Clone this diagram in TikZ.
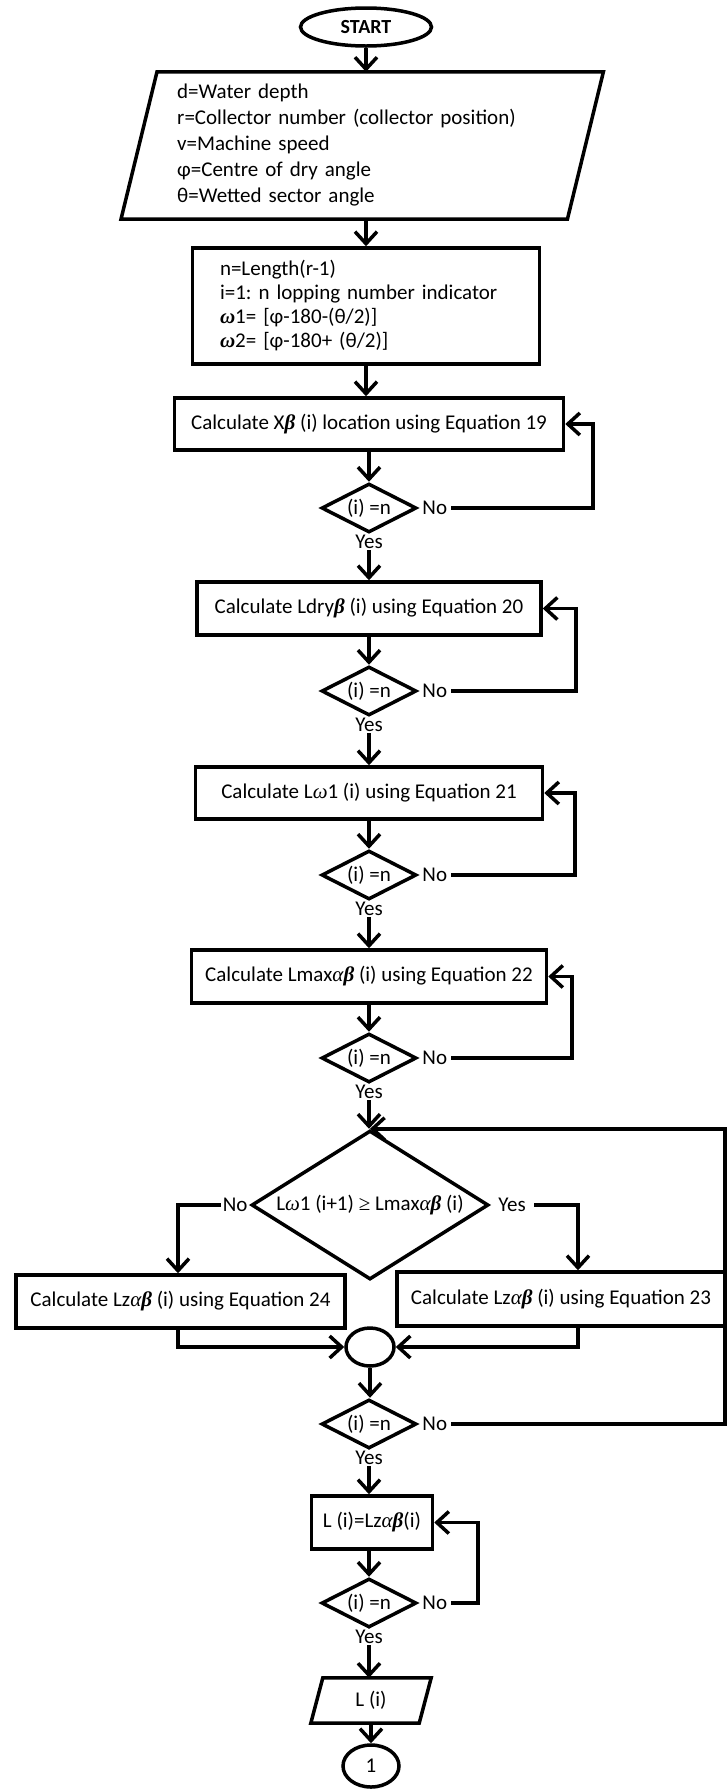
\documentclass[tikz,border=0pt]{standalone}
\usepackage{fontspec}
\setmainfont{Carlito}
\newfontfamily\symfont{Liberation Serif}
\usetikzlibrary{shapes.geometric,arrows.meta,calc}
\frenchspacing
% Greek symbols set in a serif, as in an equation editor
\newcommand{\betab}{{\symfont\bfseries\itshape β}}
\newcommand{\alphai}{{\symfont\itshape α}}
\newcommand{\omegai}{{\symfont\itshape ω}}
\newcommand{\omegab}{{\symfont\bfseries\itshape ω}}
\newcommand{\gesign}{{\symfont ≥}}
\tikzset{
  txt/.style={font=\fontsize{21}{25}\selectfont},
  proc/.style={txt, draw, line width=3.5pt, rectangle, inner sep=0pt},
  cond/.style={txt, draw, line width=3.5pt, diamond, inner sep=0pt, aspect=1.9,
    minimum width=95pt, minimum height=49pt},
  lbl/.style={txt, inner sep=4pt},
  flow/.style={line width=3.5pt, -{Straight Barb[length=12pt,width=22pt]}},
  edge/.style={line width=3.5pt},
}
\begin{document}
\begin{tikzpicture}[x=1pt,y=-1pt]
\useasboundingbox (0,0) rectangle (728,1789);

% terminal and inputs
\node[txt, draw, line width=3.5pt, ellipse, inner sep=0pt, minimum width=131pt,
  minimum height=38pt, font=\fontsize{20}{24}\selectfont\bfseries] (start) at (366,27) {START};
\node[txt, font=\fontsize{21}{26}\selectfont, inner sep=0pt, text width=370pt,
  minimum height=147pt, align=left, anchor=west] (inp) at (177,145.5)
  {d=Water depth\\
   r=Collector number (collector position)\\
   v=Machine speed\\
   φ=Centre of dry angle\\
   θ=Wetted sector angle};
\draw[edge] ([xshift=-20pt]inp.north west) -- ([xshift=56pt]inp.north east)
  -- ([xshift=20pt]inp.south east) -- ([xshift=-56pt]inp.south west) -- cycle;

\node[proc, font=\fontsize{21}{24}\selectfont, minimum width=347pt, minimum height=116pt,
  text width=292pt, align=left] (init) at (366,306)
  {n=Length(r-1)\\
   i=1: n lopping number indicator\\
   \omegab1= [φ-180-(θ/2)]\\
   \omegab2= [φ-180+ (θ/2)]};

% first four loops
\node[proc, minimum width=389pt, minimum height=52pt] (b1) at (369,424)
  {Calculate X\betab\ (i) location using Equation 19};
\node[cond] (d1) at (369,508) {(i) =n};
\node[proc, minimum width=344pt, minimum height=53pt] (b2) at (369,608.5)
  {Calculate Ldry\betab\ (i) using Equation 20};
\node[cond] (d2) at (369,691) {(i) =n};
\node[proc, minimum width=347pt, minimum height=52pt] (b3) at (369,793)
  {Calculate L\omegai1 (i) using Equation 21};
\node[cond] (d3) at (369,875) {(i) =n};
\node[proc, minimum width=355pt, minimum height=53pt] (b4) at (369,976.5)
  {Calculate Lmax\alphai\betab\ (i) using Equation 22};
\node[cond] (d4) at (369,1058) {(i) =n};

% branch
\node[txt, draw, line width=3.5pt, diamond, inner sep=0pt, aspect=1.59,
  minimum width=237pt, minimum height=149pt] (big) at (370,1205)
  {L\omegai1 (i+1) \gesign\ Lmax\alphai\betab\ (i)};
\node[proc, minimum width=329pt, minimum height=53pt] (lb) at (180.5,1301.5)
  {Calculate Lz\alphai\betab\ (i) using Equation 24};
\node[proc, minimum width=328pt, minimum height=54pt] (rb) at (561,1299)
  {Calculate Lz\alphai\betab\ (i) using Equation 23};
\node[draw, line width=3.5pt, ellipse, inner sep=0pt, minimum width=48pt,
  minimum height=38pt] (jn) at (370,1347) {};
\node[cond] (d5) at (369,1424) {(i) =n};

% output stage
\node[proc, minimum width=121pt, minimum height=53pt] (b5) at (372,1522.5)
  {L (i)=Lz\alphai\betab(i)};
\node[cond] (d6) at (369,1603) {(i) =n};
\node[txt, inner sep=0pt, minimum width=120pt, minimum height=45pt] (out) at (371,1700.5) {L (i)};
\draw[edge] ([xshift=12pt]out.north west) -- (out.north east)
  -- ([xshift=-12pt]out.south east) -- (out.south west) -- cycle;
\node[txt, draw, line width=3.5pt, ellipse, inner sep=0pt, minimum width=56pt,
  minimum height=42pt] (fin) at (371,1766) {1};

% branch labels
\foreach \d in {1,...,6}{
  \node[lbl, anchor=west] (n\d) at (d\d.east) {No};
  \node[lbl, anchor=north, inner sep=1pt] (y\d) at (d\d.south) {Yes};
}
\node[lbl, anchor=east, inner sep=2pt] (bigno) at (big.west) {No};
\node[lbl, anchor=west, inner sep=8pt] (bigyes) at (big.east) {Yes};

% loop-back columns
\coordinate (r1) at (593,0);
\coordinate (r2) at (576,0);
\coordinate (r3) at (575,0);
\coordinate (r4) at (572,0);
\coordinate (r5) at (725,0);
\coordinate (r6) at (478,0);
\coordinate (lx) at (178,0);
\coordinate (rx) at (578,0);
\coordinate (mainx) at (366,0);

% main flow
\draw[flow] (start.south) -- (start.south |- inp.north);
\draw[flow] (inp.south -| mainx) -- (init.north);
\draw[flow] (init.south) -- (init.south |- b1.north);
\draw[flow] (b1.south) -- (d1.north);
\draw[flow] (y1.south) -- (y1.south |- b2.north);
\draw[flow] (b2.south) -- (d2.north);
\draw[flow] (y2.south) -- (y2.south |- b3.north);
\draw[flow] (b3.south) -- (d3.north);
\draw[flow] (y3.south) -- (y3.south |- b4.north);
\draw[flow] (b4.south) -- (d4.north);
\draw[flow] (y4.south) -- (y4.south |- big.north);
\draw[flow] (bigno.west) -| (lb.north -| lx);
\draw[flow] (bigyes.east) -| (rb.north -| rx);
\draw[flow] (lb.south -| lx) |- (jn.west);
\draw[flow] (rb.south -| rx) |- (jn.east);
\draw[flow] (jn.south) -- (jn.south |- d5.north);
\draw[flow] (y5.south) -- (y5.south |- b5.north);
\draw[flow] (b5.south -| d6) -- (d6.north);
\draw[flow] (y6.south) -- (y6.south |- out.north);
\draw[flow] (out.south) -- (fin.north);

% loops
\draw[flow] (n1.east) -| (b1.east -| r1) -- (b1.east);
\draw[flow] (n2.east) -| (b2.east -| r2) -- (b2.east);
\draw[flow] (n3.east) -| (b3.east -| r3) -- (b3.east);
\draw[flow] (n4.east) -| (b4.east -| r4) -- (b4.east);
\draw[flow] (n5.east) -| (big.north -| r5) -- (big.north);
\draw[flow] (n6.east) -| (b5.east -| r6) -- (b5.east);
\end{tikzpicture}
\end{document}
